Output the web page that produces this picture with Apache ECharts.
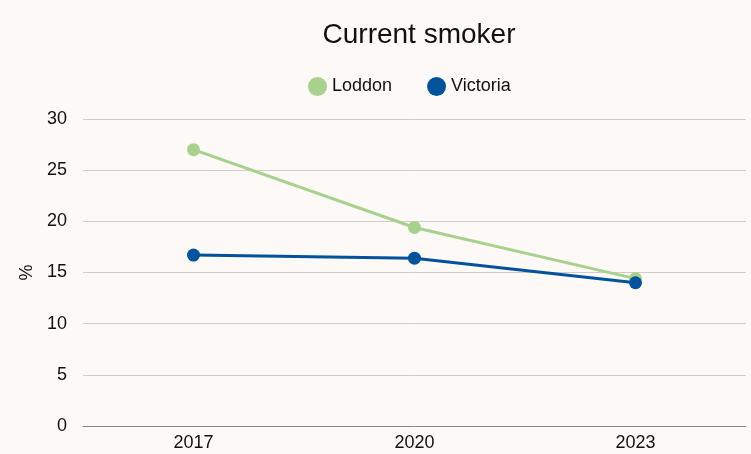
<!DOCTYPE html>
<html><head><meta charset="utf-8">
<script src="https://cdn.jsdelivr.net/npm/echarts@6/dist/echarts.min.js"></script>
<style>html,body{margin:0;padding:0;background:#fcf9f6}#c{width:751px;height:454px}</style>
</head><body><div id="c"></div>
<script>
const categories = ['2017', '2020', '2023'];
const loddon = [27.0, 19.4, 14.4];
const victoria = [16.7, 16.4, 14.0];
const yTicks = [0, 5, 10, 15, 20, 25, 30];

const chart = echarts.init(document.getElementById('c'));
chart.setOption({
  backgroundColor: '#fcf9f6',
  textStyle: { fontFamily: 'Liberation Sans, Arial, sans-serif' },
  title: { text: 'Current smoker', left: 414, top: 16, textAlign: 'center',
    textStyle: { fontSize: 28, fontWeight: 'normal', color: '#111' } },
  legend: { top: 72, left: 303, itemWidth: 19, itemHeight: 19, itemGap: 35,
    icon: 'circle', textStyle: { fontSize: 18, color: '#111' },
    data: ['Loddon', 'Victoria'] },
  grid: { left: 83, right: 5, top: 119, bottom: 28 },
  xAxis: { type: 'category', data: categories, boundaryGap: true,
    axisLine: { lineStyle: { color: '#888' } }, axisTick: { show: false },
    axisLabel: { fontSize: 18, color: '#111', margin: 8 } },
  yAxis: { type: 'value', min: yTicks[0], max: yTicks[yTicks.length-1], interval: 5,
    name: '%', nameLocation: 'middle', nameGap: 47, nameRotate: 90,
    nameTextStyle: { fontSize: 18, color: '#111' },
    axisLine: { show: false }, axisTick: { show: false },
    axisLabel: { fontSize: 18, color: '#111', margin: 16 },
    splitLine: { lineStyle: { color: '#d0ccc8' } } },
  series: [
    { name: 'Loddon', type: 'line', data: loddon, symbol: 'circle', symbolSize: 13,
      itemStyle: { color: '#a9d18e' }, lineStyle: { width: 3, color: '#a9d18e' } },
    { name: 'Victoria', type: 'line', data: victoria, symbol: 'circle', symbolSize: 13,
      itemStyle: { color: '#02529c' }, lineStyle: { width: 3, color: '#02529c' } }
  ]
});
</script></body></html>
